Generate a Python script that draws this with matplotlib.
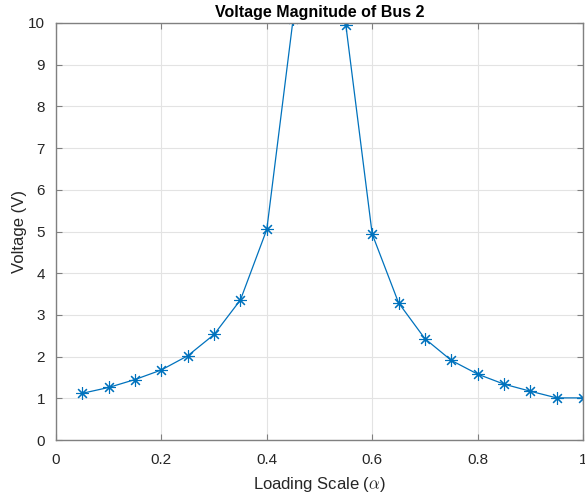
import matplotlib
matplotlib.use("Agg")
import matplotlib.pyplot as plt

alpha = [0.05, 0.10, 0.15, 0.20, 0.25, 0.30, 0.35, 0.40, 0.45, 0.50,
         0.55, 0.60, 0.65, 0.70, 0.75, 0.80, 0.85, 0.90, 0.95, 1.00]
voltage = [1.12, 1.26, 1.45, 1.68, 2.02, 2.53, 3.36, 5.05, 10.1, 20.0,
           9.95, 4.94, 3.29, 2.43, 1.91, 1.58, 1.34, 1.17, 1.01, 1.01]
xticks = [0, 0.2, 0.4, 0.6, 0.8, 1]
xticklabels = ["0", "0.2", "0.4", "0.6", "0.8", "1"]
yticks = list(range(0, 11))

plt.rcParams['font.family'] = ['Liberation Sans', 'DejaVu Sans']
plt.rcParams['mathtext.fontset'] = 'cm'

fig = plt.figure(figsize=(5.85, 4.96), dpi=100)
W, H = 585, 496
ax = fig.add_axes([56 / W, (496 - 440) / H, (583 - 56) / W, (440 - 23) / H])

ax.plot(alpha, voltage, color='#0072BD', lw=0.9, marker=(8, 2, 0), ms=9,
        markeredgewidth=0.8, clip_on=True)

ax.set_xlim(0, 1)
ax.set_ylim(0, 10)
ax.set_xticks(xticks)
ax.set_xticklabels(xticklabels)
ax.set_yticks(yticks)
ax.grid(True, color='#e3e3e3', lw=0.8)
ax.set_axisbelow(True)
for s in ax.spines.values():
    s.set_color('#808080')
    s.set_linewidth(1.0)
ax.tick_params(direction='in', length=4, width=0.8, color='#808080',
               labelsize=11, labelcolor='#262626', top=True, right=True)
ax.tick_params(axis='x', pad=9)
ax.tick_params(axis='y', pad=8)

ax.set_xlabel(r'Loading Scale ($\alpha$)', fontsize=12, color='#262626', labelpad=6)
ax.set_ylabel('Voltage (V)', fontsize=12, color='#262626', labelpad=1)
ax.set_title('Voltage Magnitude of Bus 2', fontsize=11.5, fontweight='bold',
             color='black', pad=4)

fig.savefig('out.png', dpi=100, facecolor='white')
